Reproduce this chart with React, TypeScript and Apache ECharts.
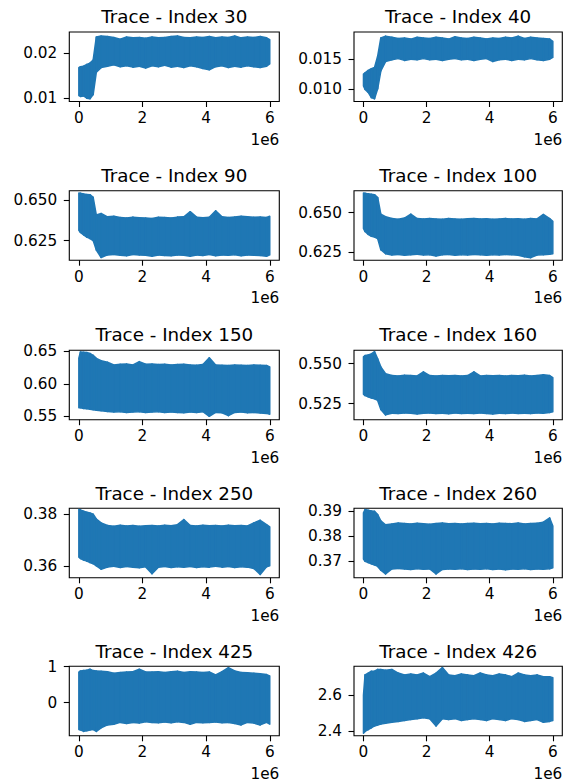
import React, { useEffect, useRef } from "react";
import * as echarts from "echarts";

// x positions (units of 1e6 samples)
const X_MILLIONS = [0, 0.05, 0.15, 0.25, 0.35, 0.45, 0.55, 0.7, 0.9, 1.1, 1.3, 1.5, 1.7, 1.9, 2.1, 2.3, 2.5, 2.7, 2.9, 3.1, 3.3, 3.5, 3.7, 3.9, 4.1, 4.3, 4.5, 4.7, 4.9, 5.1, 5.3, 5.5, 5.7, 5.9, 6.0];

const TITLES = [
  "Trace - Index 30", "Trace - Index 40",
  "Trace - Index 90", "Trace - Index 100",
  "Trace - Index 150", "Trace - Index 160",
  "Trace - Index 250", "Trace - Index 260",
  "Trace - Index 425", "Trace - Index 426",
];

// Upper / lower envelopes of each trace
const UPPER_30 = [0.0168, 0.0170, 0.0171, 0.0175, 0.0178, 0.0185, 0.0236, 0.0238, 0.0237, 0.0235, 0.0231, 0.0236, 0.0234, 0.0235, 0.0233, 0.0236, 0.0234, 0.0235, 0.0237, 0.0238, 0.0235, 0.0234, 0.0236, 0.0235, 0.0237, 0.0234, 0.0236, 0.0235, 0.0238, 0.0234, 0.0236, 0.0235, 0.0237, 0.0234, 0.0230];
const LOWER_30 = [0.0106, 0.0104, 0.0105, 0.0100, 0.0099, 0.0108, 0.0158, 0.0168, 0.0171, 0.0174, 0.0170, 0.0172, 0.0169, 0.0171, 0.0167, 0.0172, 0.0170, 0.0173, 0.0169, 0.0171, 0.0168, 0.0172, 0.0170, 0.0166, 0.0163, 0.0170, 0.0172, 0.0168, 0.0171, 0.0169, 0.0172, 0.0170, 0.0168, 0.0171, 0.0176];

const UPPER_40 = [0.0125, 0.0127, 0.0131, 0.0134, 0.0136, 0.0155, 0.0186, 0.0189, 0.0187, 0.0185, 0.0186, 0.0184, 0.0187, 0.0186, 0.0185, 0.0187, 0.0186, 0.0184, 0.0188, 0.0186, 0.0185, 0.0187, 0.0186, 0.0184, 0.0186, 0.0185, 0.0187, 0.0186, 0.0189, 0.0185, 0.0187, 0.0186, 0.0185, 0.0184, 0.0180];
const LOWER_40 = [0.0105, 0.0099, 0.0094, 0.0085, 0.0083, 0.0100, 0.0130, 0.0146, 0.0149, 0.0151, 0.0148, 0.0150, 0.0149, 0.0151, 0.0149, 0.0150, 0.0148, 0.0150, 0.0151, 0.0149, 0.0150, 0.0148, 0.0150, 0.0151, 0.0146, 0.0149, 0.0150, 0.0148, 0.0150, 0.0149, 0.0151, 0.0149, 0.0148, 0.0150, 0.0153];

const UPPER_90 = [0.6547, 0.6545, 0.6540, 0.6537, 0.6536, 0.6520, 0.6409, 0.6419, 0.6398, 0.6402, 0.6394, 0.6390, 0.6396, 0.6392, 0.6390, 0.6387, 0.6395, 0.6393, 0.6391, 0.6396, 0.6398, 0.6430, 0.6396, 0.6392, 0.6395, 0.6436, 0.6398, 0.6394, 0.6397, 0.6402, 0.6399, 0.6395, 0.6397, 0.6394, 0.6402];
const LOWER_90 = [0.6314, 0.6300, 0.6285, 0.6271, 0.6262, 0.6250, 0.6190, 0.6144, 0.6160, 0.6163, 0.6158, 0.6155, 0.6162, 0.6160, 0.6158, 0.6152, 0.6160, 0.6157, 0.6155, 0.6160, 0.6158, 0.6152, 0.6160, 0.6157, 0.6162, 0.6155, 0.6160, 0.6158, 0.6161, 0.6155, 0.6160, 0.6158, 0.6157, 0.6152, 0.6160];

const UPPER_100 = [0.6624, 0.6622, 0.6618, 0.6615, 0.6613, 0.6595, 0.6490, 0.6474, 0.6462, 0.6458, 0.6465, 0.6490, 0.6462, 0.6459, 0.6463, 0.6460, 0.6458, 0.6462, 0.6460, 0.6458, 0.6461, 0.6462, 0.6459, 0.6461, 0.6458, 0.6460, 0.6462, 0.6459, 0.6461, 0.6458, 0.6463, 0.6460, 0.6488, 0.6462, 0.6445];
const LOWER_100 = [0.6400, 0.6380, 0.6362, 0.6350, 0.6345, 0.6335, 0.6265, 0.6240, 0.6232, 0.6235, 0.6230, 0.6233, 0.6236, 0.6232, 0.6234, 0.6225, 0.6233, 0.6235, 0.6231, 0.6234, 0.6232, 0.6235, 0.6233, 0.6231, 0.6234, 0.6232, 0.6235, 0.6233, 0.6230, 0.6221, 0.6215, 0.6232, 0.6234, 0.6236, 0.6240];

const UPPER_150 = [0.6395, 0.6490, 0.6485, 0.6480, 0.6465, 0.6437, 0.6390, 0.6355, 0.6330, 0.6290, 0.6300, 0.6305, 0.6290, 0.6340, 0.6300, 0.6305, 0.6295, 0.6300, 0.6290, 0.6295, 0.6300, 0.6290, 0.6285, 0.6295, 0.6400, 0.6290, 0.6285, 0.6280, 0.6290, 0.6285, 0.6280, 0.6290, 0.6285, 0.6280, 0.6260];
const LOWER_150 = [0.5632, 0.5630, 0.5620, 0.5615, 0.5610, 0.5600, 0.5595, 0.5585, 0.5575, 0.5565, 0.5570, 0.5560, 0.5565, 0.5570, 0.5560, 0.5565, 0.5570, 0.5560, 0.5565, 0.5560, 0.5555, 0.5565, 0.5560, 0.5570, 0.5500, 0.5560, 0.5555, 0.5510, 0.5560, 0.5565, 0.5555, 0.5560, 0.5550, 0.5545, 0.5530];

const UPPER_160 = [0.5542, 0.5550, 0.5553, 0.5560, 0.5574, 0.5530, 0.5479, 0.5436, 0.5425, 0.5423, 0.5427, 0.5425, 0.5423, 0.5448, 0.5425, 0.5423, 0.5426, 0.5424, 0.5425, 0.5422, 0.5425, 0.5448, 0.5423, 0.5425, 0.5424, 0.5426, 0.5423, 0.5425, 0.5424, 0.5427, 0.5423, 0.5425, 0.5430, 0.5425, 0.5412];
const LOWER_160 = [0.5309, 0.5300, 0.5292, 0.5285, 0.5280, 0.5270, 0.5214, 0.5180, 0.5190, 0.5188, 0.5192, 0.5190, 0.5186, 0.5190, 0.5192, 0.5188, 0.5190, 0.5187, 0.5191, 0.5189, 0.5190, 0.5188, 0.5191, 0.5189, 0.5185, 0.5190, 0.5188, 0.5191, 0.5189, 0.5190, 0.5188, 0.5191, 0.5190, 0.5195, 0.5200];

const UPPER_250 = [0.3817, 0.3815, 0.3810, 0.3806, 0.3803, 0.3798, 0.3780, 0.3765, 0.3755, 0.3752, 0.3756, 0.3753, 0.3755, 0.3752, 0.3754, 0.3755, 0.3753, 0.3756, 0.3754, 0.3758, 0.3778, 0.3755, 0.3753, 0.3756, 0.3754, 0.3755, 0.3753, 0.3756, 0.3754, 0.3755, 0.3753, 0.3765, 0.3775, 0.3758, 0.3750];
const LOWER_250 = [0.3633, 0.3628, 0.3622, 0.3618, 0.3613, 0.3608, 0.3600, 0.3587, 0.3595, 0.3598, 0.3594, 0.3597, 0.3595, 0.3593, 0.3596, 0.3570, 0.3595, 0.3597, 0.3594, 0.3596, 0.3595, 0.3597, 0.3594, 0.3596, 0.3595, 0.3598, 0.3595, 0.3597, 0.3594, 0.3596, 0.3595, 0.3590, 0.3567, 0.3596, 0.3600];

const UPPER_260 = [0.3892, 0.3905, 0.3902, 0.3899, 0.3898, 0.3885, 0.3860, 0.3845, 0.3848, 0.3852, 0.3850, 0.3848, 0.3851, 0.3849, 0.3847, 0.3850, 0.3852, 0.3849, 0.3850, 0.3848, 0.3850, 0.3851, 0.3849, 0.3850, 0.3848, 0.3851, 0.3850, 0.3849, 0.3852, 0.3848, 0.3850, 0.3851, 0.3855, 0.3872, 0.3840];
const LOWER_260 = [0.3709, 0.3700, 0.3695, 0.3690, 0.3686, 0.3680, 0.3665, 0.3650, 0.3670, 0.3672, 0.3670, 0.3668, 0.3671, 0.3669, 0.3670, 0.3650, 0.3668, 0.3670, 0.3669, 0.3671, 0.3668, 0.3670, 0.3669, 0.3671, 0.3668, 0.3670, 0.3667, 0.3670, 0.3669, 0.3671, 0.3668, 0.3670, 0.3669, 0.3671, 0.3675];

const UPPER_425 = [0.85, 0.88, 0.89, 0.90, 0.93, 0.89, 0.88, 0.87, 0.86, 0.82, 0.84, 0.85, 0.86, 0.93, 0.85, 0.85, 0.86, 0.84, 0.86, 0.87, 0.84, 0.86, 0.85, 0.84, 0.85, 0.77, 0.86, 0.97, 0.88, 0.84, 0.83, 0.82, 0.80, 0.78, 0.74];
const LOWER_425 = [-0.75, -0.76, -0.80, -0.78, -0.76, -0.75, -0.80, -0.70, -0.62, -0.60, -0.55, -0.58, -0.55, -0.57, -0.53, -0.55, -0.56, -0.54, -0.56, -0.53, -0.55, -0.60, -0.55, -0.56, -0.55, -0.54, -0.56, -0.55, -0.58, -0.62, -0.55, -0.57, -0.62, -0.55, -0.60];

const UPPER_426 = [2.60, 2.71, 2.72, 2.73, 2.73, 2.74, 2.74, 2.735, 2.74, 2.72, 2.71, 2.715, 2.71, 2.72, 2.70, 2.72, 2.75, 2.71, 2.705, 2.715, 2.71, 2.705, 2.72, 2.71, 2.705, 2.715, 2.71, 2.70, 2.72, 2.71, 2.705, 2.71, 2.70, 2.70, 2.695];
const LOWER_426 = [2.39, 2.40, 2.41, 2.42, 2.43, 2.435, 2.44, 2.445, 2.45, 2.455, 2.46, 2.465, 2.47, 2.475, 2.47, 2.43, 2.47, 2.465, 2.47, 2.46, 2.465, 2.47, 2.465, 2.46, 2.47, 2.465, 2.46, 2.47, 2.465, 2.455, 2.46, 2.465, 2.45, 2.455, 2.46];

const UPPERS = [UPPER_30, UPPER_40, UPPER_90, UPPER_100, UPPER_150, UPPER_160, UPPER_250, UPPER_260, UPPER_425, UPPER_426];
const LOWERS = [LOWER_30, LOWER_40, LOWER_90, LOWER_100, LOWER_150, LOWER_160, LOWER_250, LOWER_260, LOWER_425, LOWER_426];

// axis limits and tick labels
const Y_MIN = [0.00927, 0.00785, 0.6127, 0.6199, 0.5448, 0.515, 0.3554, 0.3635, -0.923, 2.376];
const Y_MAX = [0.0247, 0.0196, 0.6561, 0.6638, 0.6516, 0.5583, 0.3821, 0.391, 1.01, 2.757];
const Y_TICKS = [
  [0.01, 0.02], [0.01, 0.015],
  [0.625, 0.65], [0.625, 0.65],
  [0.55, 0.6, 0.65], [0.525, 0.55],
  [0.36, 0.38], [0.37, 0.38, 0.39],
  [0, 1], [2.4, 2.6],
];
const Y_DECIMALS = [2, 3, 3, 3, 2, 3, 2, 2, 0, 1];
const X_TICKS = [0, 2, 4, 6];
const X_MIN = -0.3;
const X_MAX = 6.3;
const X_OFFSET_LABEL = "1e6";

const C0 = "#1f77b4";
const FONT = "DejaVu Sans";
const COL_LEFT = [69.3, 354];
const COL_WIDTH = [210, 208.3];
const ROW_TOP = [32, 190.7, 350.2, 508.3, 666.3];
const ROW_HEIGHT = 69.5;

export default function App() {
  const ref = useRef<HTMLDivElement>(null);
  useEffect(() => {
    if (!ref.current) return;
    const chart = echarts.init(ref.current, null, { renderer: "svg" });
    const grids: any[] = [];
    const xAxes: any[] = [];
    const yAxes: any[] = [];
    const series: any[] = [];
    const graphics: any[] = [];
    TITLES.forEach((title, i) => {
      const col = i % 2;
      const row = Math.floor(i / 2);
      const left = COL_LEFT[col];
      const width = COL_WIDTH[col];
      const top = ROW_TOP[row];
      grids.push({
        left, top, width, height: ROW_HEIGHT,
        show: true, borderColor: "#000", borderWidth: 1.1, backgroundColor: "transparent",
      });
      xAxes.push({
        type: "value", gridIndex: i, min: X_MIN, max: X_MAX,
        axisLine: { show: false, onZero: false },
        splitLine: { show: false },
        axisTick: { show: true, length: 5.5, lineStyle: { color: "#000", width: 1.1 }, customValues: X_TICKS },
        axisLabel: { customValues: X_TICKS, fontSize: 15.3, fontFamily: FONT, color: "#000", margin: 9, formatter: (v: number) => String(v) },
      });
      yAxes.push({
        type: "value", gridIndex: i, min: Y_MIN[i], max: Y_MAX[i],
        axisLine: { show: false, onZero: false },
        splitLine: { show: false },
        axisTick: { show: true, length: 5.5, lineStyle: { color: "#000", width: 1.1 }, customValues: Y_TICKS[i] },
        axisLabel: { customValues: Y_TICKS[i], fontSize: 15.3, fontFamily: FONT, color: "#000", margin: 12, formatter: (v: number) => v.toFixed(Y_DECIMALS[i]) },
      });
      const lower = LOWERS[i];
      const upper = UPPERS[i];
      const n = X_MILLIONS.length;
      series.push({
        type: "custom", xAxisIndex: i, yAxisIndex: i, silent: true, clip: true,
        data: X_MILLIONS.map((x, k) => [x, lower[k], upper[k]]),
        encode: { x: 0, y: [1, 2] },
        renderItem: (params: any, api: any) => {
          const k = params.dataIndex;
          if (k >= n - 1) return null;
          const p1 = api.coord([X_MILLIONS[k], lower[k]]);
          const p2 = api.coord([X_MILLIONS[k], upper[k]]);
          const p3 = api.coord([X_MILLIONS[k + 1], upper[k + 1]]);
          const p4 = api.coord([X_MILLIONS[k + 1], lower[k + 1]]);
          return {
            type: "polygon",
            shape: { points: [p1, p2, p3, p4] },
            style: { fill: C0, stroke: C0, lineWidth: 1.5, lineJoin: "round" },
          };
        },
      });
      graphics.push({
        type: "text", x: left + width / 2, y: top - 15.3,
        style: { text: title, fontSize: 18.3, fontFamily: FONT, fill: "#000", textAlign: "center", textVerticalAlign: "middle", align: "center", verticalAlign: "middle" },
      });
      graphics.push({
        type: "text", x: left + width, y: top + ROW_HEIGHT + 38,
        style: { text: X_OFFSET_LABEL, fontSize: 15.3, fontFamily: FONT, fill: "#000", textAlign: "right", textVerticalAlign: "middle", align: "right", verticalAlign: "middle" },
      });
    });
    chart.setOption({
      animation: false,
      backgroundColor: "#fff",
      textStyle: { fontFamily: FONT },
      grid: grids,
      xAxis: xAxes,
      yAxis: yAxes,
      series,
      graphic: graphics,
    });
    return () => chart.dispose();
  }, []);
  return <div ref={ref} style={{ position: "absolute", left: 0, top: 0, width: 567, height: 784 }} />;
}
